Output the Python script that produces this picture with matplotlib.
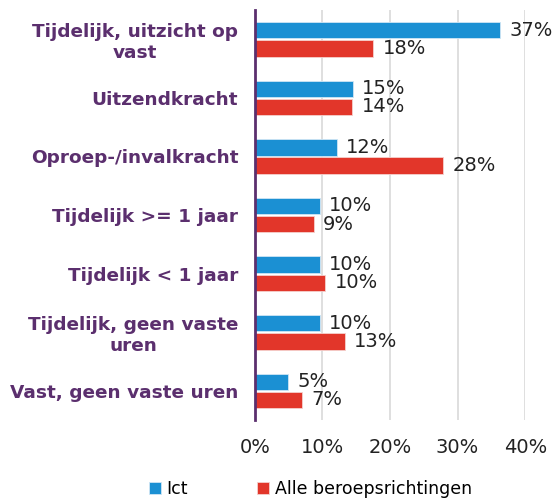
import matplotlib.pyplot as plt
import numpy as np

categories = ['Tijdelijk, uitzicht op\nvast', 'Uitzendkracht', 'Oproep-/invalkracht',
              'Tijdelijk >= 1 jaar', 'Tijdelijk < 1 jaar',
              'Tijdelijk, geen vaste\nuren', 'Vast, geen vaste uren']
ict = [36.3, 14.5, 12.1, 9.6, 9.6, 9.6, 4.9]
alle = [17.5, 14.4, 27.9, 8.7, 10.4, 13.3, 7.0]
ict_labels = ['37%', '15%', '12%', '10%', '10%', '10%', '5%']
alle_labels = ['18%', '14%', '28%', '9%', '10%', '13%', '7%']

blue = '#1b90d3'
red = '#e2362a'
purple = '#5b2f6e'

fig = plt.figure(figsize=(5.54, 4.99), dpi=100)
ax = fig.add_axes([0.460, 0.158, 0.488, 0.822])

y = np.arange(len(categories))
h = 0.28
off = 0.155
ax.barh(y - off, ict, height=h, color=blue, edgecolor='#cfe6f5', linewidth=0.6, label='Ict', zorder=3)
ax.barh(y + off, alle, height=h, color=red, edgecolor='#f5d0cd', linewidth=0.6,
        label='Alle beroepsrichtingen', zorder=3)

for i in range(len(categories)):
    ax.text(ict[i] + 1.4, y[i] - off, ict_labels[i], va='center', ha='left', fontsize=14, color='#222222')
    ax.text(alle[i] + 1.4, y[i] + off, alle_labels[i], va='center', ha='left', fontsize=14, color='#222222')

ax.set_xlim(0, 40)
ax.set_ylim(len(categories) - 0.5, -0.5)
ax.set_xticks([0, 10, 20, 30, 40])
ax.set_xticklabels(['0%', '10%', '20%', '30%', '40%'], fontsize=14, color='#222222')
ax.set_yticks(y)
ax.set_yticklabels(categories, fontsize=13.3, fontweight='bold', color=purple, multialignment='center')
ax.tick_params(axis='y', length=0, pad=12)
ax.tick_params(axis='x', length=0, pad=13)
ax.grid(axis='x', color='#d9d9d9', linewidth=1.2, zorder=0)
for s in ['top', 'right', 'bottom']:
    ax.spines[s].set_visible(False)
ax.spines['left'].set_color(purple)
ax.spines['left'].set_linewidth(2)
ax.spines['left'].set_zorder(4)

fig.legend(loc='lower center', bbox_to_anchor=(0.56, -0.03), ncol=2, frameon=False,
           fontsize=12.5, handlelength=0.7, handleheight=0.7, handletextpad=0.3, columnspacing=4)

fig.savefig('out.png')
